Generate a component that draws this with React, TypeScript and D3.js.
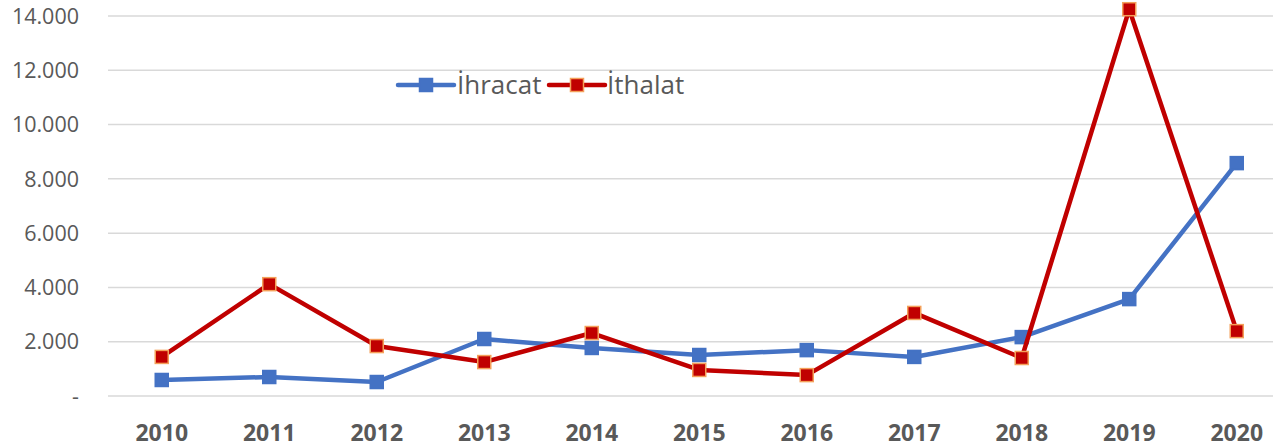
import React from 'react';
import * as d3 from 'd3';

const years = ['2010', '2011', '2012', '2013', '2014', '2015', '2016', '2017', '2018', '2019', '2020'];
const ihracat = [590, 700, 515, 2100, 1770, 1510, 1690, 1440, 2170, 3570, 8580];
const ithalat = [1440, 4120, 1840, 1250, 2320, 960, 770, 3060, 1400, 14250, 2390];
const yTicks = [0, 2000, 4000, 6000, 8000, 10000, 12000, 14000];

const width = 1273;
const height = 447;
const margin = { left: 108, top: 16, bottom: 51 };
const font = "'Open Sans', 'Liberation Sans', sans-serif";

const x = d3.scaleBand<string>()
  .domain(years)
  .range([margin.left, margin.left + 107.5 * years.length]);

const y = d3.scaleLinear()
  .domain([0, 14000])
  .range([height - margin.bottom, margin.top]);

const fmt = (v: number) => (v === 0 ? '-' : d3.format(',')(v).replace(/,/g, '.'));

const line = d3.line<number>()
  .x((d, i) => (x(years[i]) as number) + x.bandwidth() / 2)
  .y(d => y(d));

const series = [
  { name: 'İhracat', values: ihracat, color: '#4472C4', stroke: '#4472C4' },
  { name: 'İthalat', values: ithalat, color: '#C00000', stroke: '#F4A05A' },
];

const legendPos = [{ x: 398, tx: 457 }, { x: 549, tx: 607 }];

export default function App() {
  const ms = 13;
  return (
    <svg width={width} height={height} style={{ position: 'absolute', left: 0, top: 0 }}>
      <rect width={width} height={height} fill="#fff" />
      {yTicks.map(t => (
        <g key={t}>
          <line x1={margin.left} x2={width} y1={y(t)} y2={y(t)} stroke="#d9d9d9" strokeWidth={1.5} />
          <text x={79} y={y(t)} dy="0.36em" textAnchor="end" fontFamily={font} fontSize={21.5} fill="#595959">
            {fmt(t)}
          </text>
        </g>
      ))}
      {years.map(yr => (
        <text key={yr} x={(x(yr) as number) + x.bandwidth() / 2} y={433} dy="0.36em" textAnchor="middle"
          fontFamily={font} fontSize={23} fontWeight="bold" fill="#595959">
          {yr}
        </text>
      ))}
      {series.map(s => (
        <g key={s.name}>
          <path d={line(s.values) as string} fill="none" stroke={s.color} strokeWidth={4.5} strokeLinejoin="round" strokeLinecap="round" />
          {s.values.map((v, i) => (
            <rect key={i}
              x={(x(years[i]) as number) + x.bandwidth() / 2 - ms / 2}
              y={y(v) - ms / 2}
              width={ms} height={ms}
              fill={s.color} stroke={s.stroke} strokeWidth={1.5} />
          ))}
        </g>
      ))}
      {series.map((s, i) => (
        <g key={s.name}>
          <line x1={legendPos[i].x} x2={legendPos[i].x + 56} y1={85} y2={85} stroke={s.color} strokeWidth={4.5} strokeLinecap="round" />
          <rect x={legendPos[i].x + 28 - ms / 2} y={85 - ms / 2} width={ms} height={ms} fill={s.color} stroke={s.stroke} strokeWidth={1.5} />
          <text x={legendPos[i].tx} y={85} dy="0.36em" fontFamily={font} fontSize={26} fill="#595959">{s.name}</text>
        </g>
      ))}
    </svg>
  );
}
